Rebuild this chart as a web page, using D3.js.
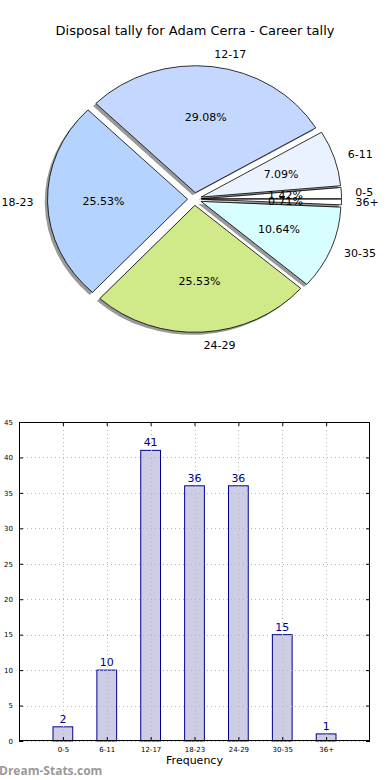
<!DOCTYPE html>
<html>
<head>
<meta charset="utf-8">
<script src="https://cdn.jsdelivr.net/npm/d3@7"></script>
<style>
html,body{margin:0;padding:0;background:#fff;}
svg{display:block;font-family:"DejaVu Sans",sans-serif;}
</style>
</head>
<body>
<svg id="chart" width="390" height="780"></svg>
<script>
const categories = ["0-5","6-11","12-17","18-23","24-29","30-35","36+"];
const counts = [2, 10, 41, 36, 36, 15, 1];
const sliceColors = ["#ffffff","#eaf1ff","#c4d8ff","#b4d4ff","#d0ea8a","#d8ffff","#ffffff"];
const yTicks = [0,5,10,15,20,25,30,35,40,45];
const title = "Disposal tally for Adam Cerra - Career tally";
const xLabel = "Frequency";
const watermark = "Dream-Stats.com";

const svg = d3.select("#chart");

// Title
svg.append("text").attr("x",195).attr("y",35).attr("text-anchor","middle")
  .attr("font-size",13).attr("fill","#000").text(title);

// ---------- Pie (elliptical, matplotlib style) ----------
const cx = 194.5, cy = 199, rx = 140, ry = 127;
const explode = 0.05;
const total = d3.sum(counts);
const pie = d3.pie().sort(null).value(d=>d.v)
  .startAngle(Math.PI/2).endAngle(Math.PI/2 - 2*Math.PI);
const arcs = pie(categories.map((c,i)=>({c, v:counts[i], col:sliceColors[i]})));
const arc = d3.arc().innerRadius(0).outerRadius(1);

const pieG = svg.append("g");
arcs.forEach(a=>{
  const mid = (a.startAngle + a.endAngle)/2;
  const ox = cx + explode*Math.sin(mid)*rx;
  const oy = cy - explode*Math.cos(mid)*ry;
  // shadow
  pieG.append("path")
    .attr("transform",`translate(${ox-0.02*rx},${oy+0.02*ry}) scale(${rx},${ry})`)
    .attr("d",arc(a)).attr("fill","#000").attr("fill-opacity",0.4).attr("stroke","none");
  pieG.append("path")
    .attr("transform",`translate(${ox},${oy}) scale(${rx},${ry})`)
    .attr("d",arc(a)).attr("fill",a.data.col).attr("stroke","#000")
    .attr("stroke-width",0.8).attr("vector-effect","non-scaling-stroke")
    .attr("stroke-linejoin","round");
});
arcs.forEach(a=>{
  const mid = (a.startAngle + a.endAngle)/2;
  const ox = cx + explode*Math.sin(mid)*rx;
  const oy = cy - explode*Math.cos(mid)*ry;
  const sx = Math.sin(mid), sy = Math.cos(mid);
  // outer label
  pieG.append("text")
    .attr("x", ox + 1.1*sx*rx).attr("y", oy - 1.1*sy*ry)
    .attr("dy","0.35em")
    .attr("text-anchor", sx > 0 ? "start" : "end")
    .attr("font-size",11).attr("fill","#000").text(a.data.c);
  // percent label
  pieG.append("text")
    .attr("x", ox + 0.6*sx*rx).attr("y", oy - 0.6*sy*ry)
    .attr("dy","0.35em").attr("text-anchor","middle")
    .attr("font-size",11).attr("fill","#000")
    .text((a.data.v/total*100).toFixed(2)+"%");
});

// ---------- Bar chart ----------
const L = 19, R = 370, T = 422, B = 741;
const x = d3.scaleLinear().domain([0, categories.length+1]).range([L, R]);
const y = d3.scaleLinear().domain([0, 45]).range([B, T]);
const barW = 0.45;
const g = svg.append("g");

g.selectAll("rect.bar").data(counts).enter().append("rect")
  .attr("x",(d,i)=>x(i+1-barW/2)).attr("width",x(barW)-x(0))
  .attr("y",d=>y(d)).attr("height",d=>y(0)-y(d))
  .attr("fill","#cdcde6").attr("stroke","#00008b").attr("stroke-width",1);

// grid (drawn over bars)
const grid = g.append("g").attr("stroke","#b8b8b8").attr("stroke-width",1).attr("stroke-dasharray","1,3");
yTicks.forEach(t=>{
  grid.append("line").attr("x1",L).attr("x2",R).attr("y1",Math.round(y(t))+0.5).attr("y2",Math.round(y(t))+0.5);
});
categories.forEach((c,i)=>{
  grid.append("line").attr("y1",T).attr("y2",B).attr("x1",Math.round(x(i+1))+0.5).attr("x2",Math.round(x(i+1))+0.5);
});

// value labels
g.selectAll("text.val").data(counts).enter().append("text")
  .attr("x",(d,i)=>x(i+1)).attr("y",d=>y(d)-4)
  .attr("text-anchor","middle").attr("font-size",11).attr("fill","#00008b")
  .text(d=>d);

// axes
const yAxisL = d3.axisLeft(y).tickValues(yTicks).tickSizeInner(-4).tickSizeOuter(0).tickPadding(6);
const yAx = g.append("g").attr("transform",`translate(${L},0)`).call(yAxisL);
yAx.select(".domain").remove();
yAx.selectAll("text").attr("font-size",7).attr("font-family","DejaVu Sans, sans-serif").attr("fill","#000");
const yAxisR = d3.axisRight(y).tickValues(yTicks).tickSizeInner(-4).tickSizeOuter(0).tickFormat("");
const yAxR = g.append("g").attr("transform",`translate(${R},0)`).call(yAxisR);
yAxR.select(".domain").remove();

const xAxisB = d3.axisBottom(x).tickValues(categories.map((c,i)=>i+1))
  .tickFormat((d)=>categories[d-1]).tickSizeInner(-4).tickSizeOuter(0).tickPadding(6);
const xAx = g.append("g").attr("transform",`translate(0,${B})`).call(xAxisB);
xAx.select(".domain").remove();
xAx.selectAll("text").attr("font-size",7).attr("font-family","DejaVu Sans, sans-serif").attr("fill","#000");
const xAxisT = d3.axisTop(x).tickValues(categories.map((c,i)=>i+1)).tickSizeInner(-4).tickSizeOuter(0).tickFormat("");
const xAxT = g.append("g").attr("transform",`translate(0,${T})`).call(xAxisT);
xAxT.select(".domain").remove();
g.selectAll(".tick line").attr("stroke","#000");

g.append("rect").attr("x",L+0.5).attr("y",T+0.5).attr("width",R-L-1).attr("height",B-T-1)
  .attr("fill","none").attr("stroke","#000").attr("stroke-width",1);

svg.append("text").attr("x",(L+R)/2).attr("y",764).attr("text-anchor","middle")
  .attr("font-size",11).attr("fill","#000").text(xLabel);

svg.append("text").attr("x",-1).attr("y",775).attr("font-size",12)
  .attr("font-weight","bold").attr("fill","#999").attr("font-family","Open Sans, DejaVu Sans, sans-serif").text(watermark);
</script>
</body>
</html>
